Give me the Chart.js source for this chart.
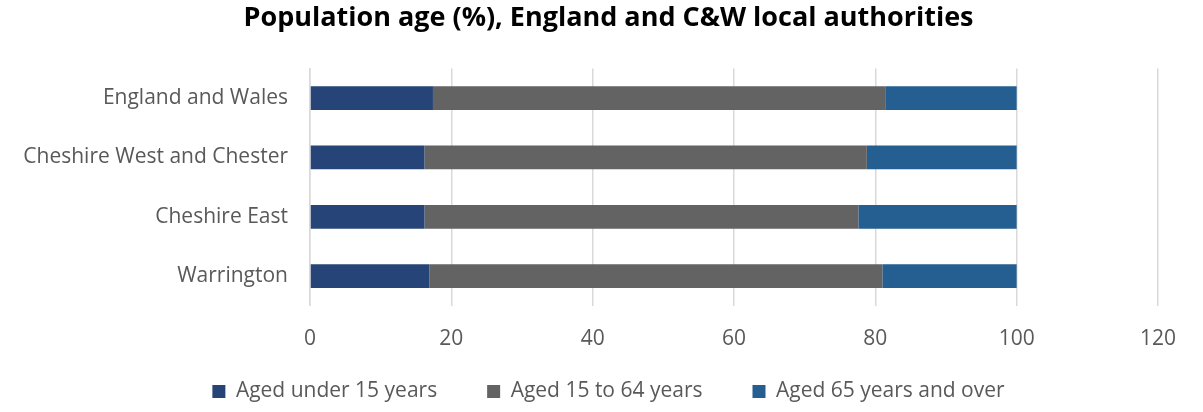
<!DOCTYPE html>
<html>
<head>
<meta charset="utf-8">
<script src="https://cdn.jsdelivr.net/npm/chart.js@4.4.0/dist/chart.umd.min.js"></script>
<style>
  html, body { margin: 0; padding: 0; background: #fff; }
  #wrap { width: 1203px; height: 412px; }
</style>
</head>
<body>
<div id="wrap"><canvas id="chart"></canvas></div>
<script>
const areas = ["England and Wales", "Cheshire West and Chester", "Cheshire East", "Warrington"];
const seriesNames = ["Aged under 15 years", "Aged 15 to 64 years", "Aged 65 years and over"];
const under15 = [17.4, 16.2, 16.2, 16.9];
const aged15to64 = [64.0, 62.6, 61.4, 64.1];
const over65 = [18.6, 21.2, 22.4, 19.0];
const xTicks = [0, 20, 40, 60, 80, 100, 120];

const fontFamily = "'Open Sans', sans-serif";
const colors = ["#264478", "#636363", "#255E91"];

// legend padding also sets the gap between items, so lift the legend
// back up after layout instead of shrinking that gap
const liftLegend = {
  id: "liftLegend",
  afterLayout(chart) {
    chart.legend.top -= 42;
    chart.legend.bottom -= 42;
  },
};

const ctx = document.getElementById("chart").getContext("2d");
new Chart(ctx, {
  type: "bar",
  data: {
    labels: areas,
    datasets: [under15, aged15to64, over65].map((vals, i) => ({
      label: seriesNames[i],
      data: vals,
      backgroundColor: colors[i],
      borderWidth: 0,
      categoryPercentage: 0.8,
      barPercentage: 0.5,
    })),
  },
  options: {
    indexAxis: "y",
    responsive: true,
    maintainAspectRatio: false,
    animation: false,
    layout: { padding: { left: 14, right: 0, top: 0, bottom: -42 } },
    plugins: {
      title: {
        display: true,
        text: "Population age (%), England and C&W local authorities",
        color: "#000",
        font: { family: fontFamily, size: 27, weight: "bold" },
        padding: { top: 2, bottom: 34 },
      },
      legend: {
        position: "bottom",
        labels: {
          color: "#595959",
          font: { family: fontFamily, size: 21 },
          boxWidth: 13,
          boxHeight: 13,
          padding: 50,
        },
      },
      tooltip: { enabled: false },
    },
    scales: {
      x: {
        stacked: true,
        min: 0,
        max: 120,
        afterBuildTicks: (axis) => { axis.ticks = xTicks.map(v => ({ value: v })); },
        grid: { color: "#d9d9d9", lineWidth: 1.5, drawTicks: false },
        border: { display: false },
        ticks: { color: "#595959", font: { family: fontFamily, size: 21 }, padding: 21 },
      },
      y: {
        stacked: true,
        afterFit: (axis) => { axis.width = 296; },
        grid: { display: false, drawTicks: false },
        border: { display: true, color: "#d9d9d9", width: 1.5 },
        ticks: { color: "#595959", font: { family: fontFamily, size: 21 }, padding: 22 },
      },
      // empty right-hand margin so the plot ends at 120 like the original
      yRight: {
        type: "category",
        position: "right",
        afterFit: (axis) => { axis.width = 45; },
        grid: { display: false, drawTicks: false },
        border: { display: false },
        ticks: { display: false },
      },
    },
  },
  plugins: [liftLegend],
});
</script>
</body>
</html>
